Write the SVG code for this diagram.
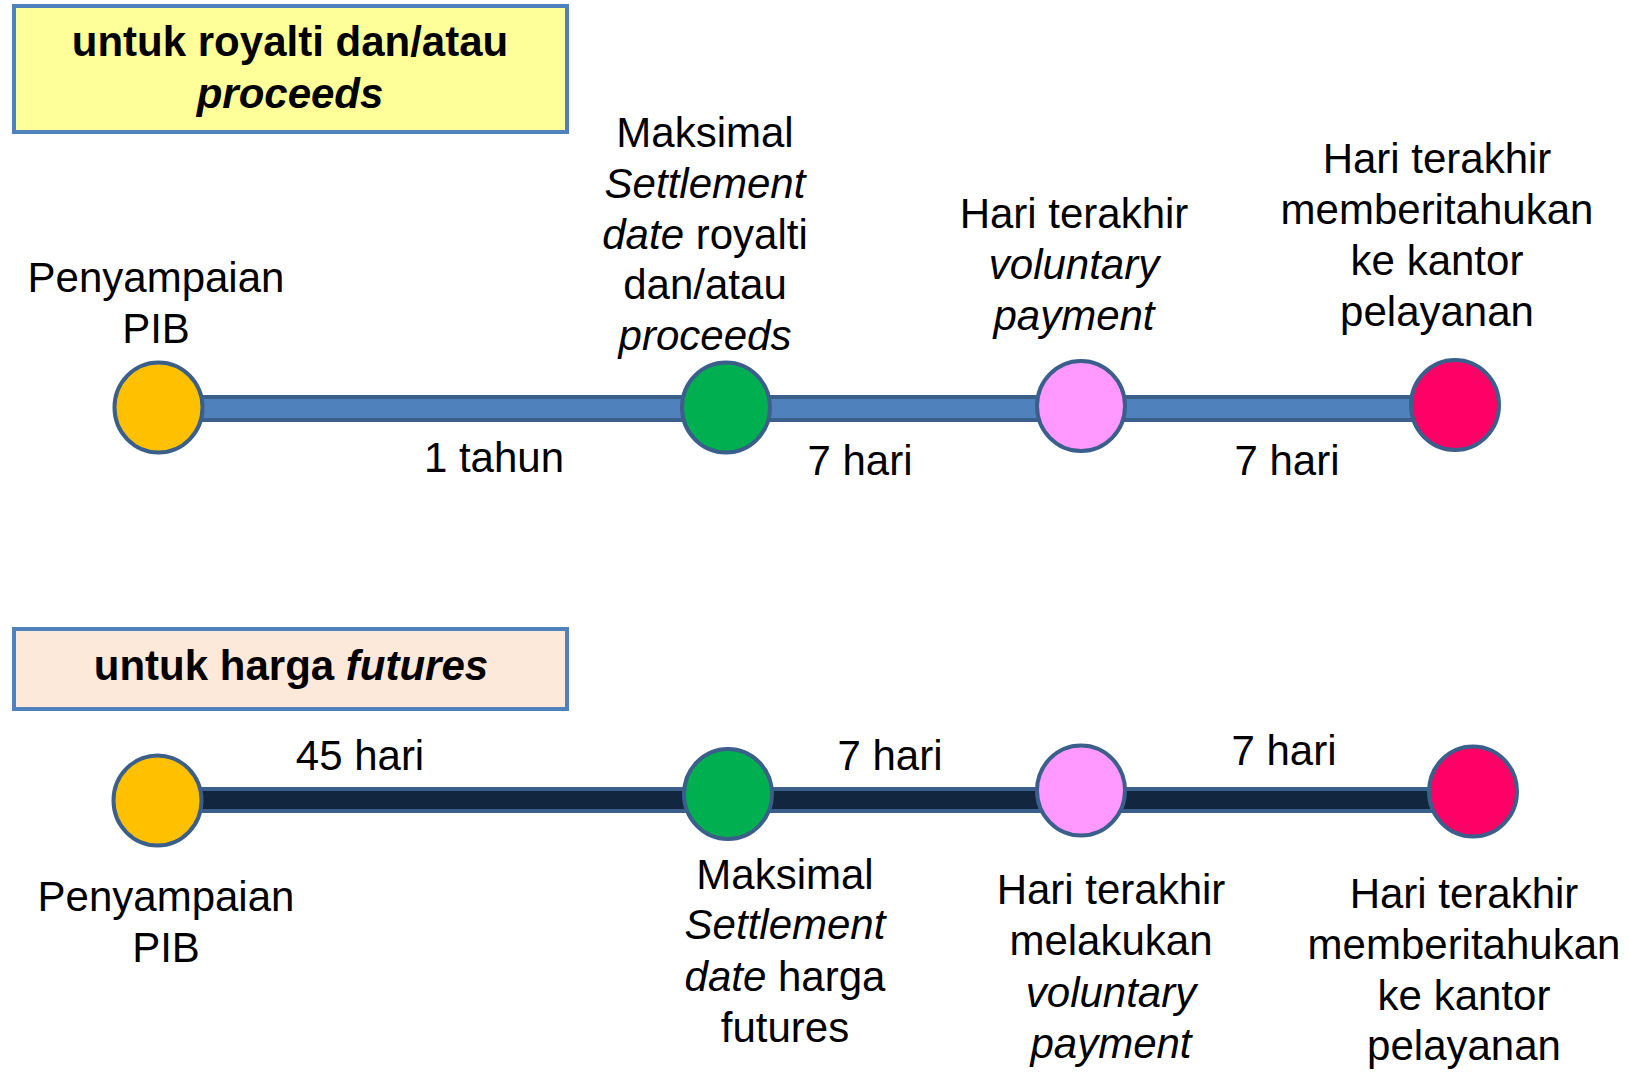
<svg xmlns="http://www.w3.org/2000/svg" width="1630" height="1073" viewBox="0 0 1630 1073">
<style>
text{font-family:"Liberation Sans",Arial,sans-serif;font-size:42px;fill:#000;text-anchor:middle}
.t{font-weight:bold}
.i{font-style:italic}
.box1{fill:#ffff99;stroke:#4f81bd;stroke-width:4}
.box2{fill:#fde9d9;stroke:#4f81bd;stroke-width:4}
.node{stroke:#3a5f8b;stroke-width:4}
.l1{fill:#4f81bd;stroke:#3a5f8b;stroke-width:4}
.l2{fill:#13263f;stroke:#3a5f8b;stroke-width:4}
</style>
<rect width="1630" height="1073" fill="#fff"/>
<g id="title1">
<rect class="box1" x="14" y="6" width="553" height="126"/>
<text class="t" x="290" y="56">untuk royalti dan/atau</text>
<text class="t i" x="290" y="108">proceeds</text>
</g>
<g id="title2">
<rect class="box2" x="14" y="629" width="553" height="80"/>
<text class="t" x="291" y="680">untuk harga <tspan class="i">futures</tspan></text>
</g>
<g id="connectors">
<rect class="l1" x="190" y="397" width="1230" height="23"/>
<rect class="l2" x="190" y="789" width="1250" height="22"/>
</g>
<g id="a1"><ellipse class="node" cx="158.5" cy="407.5" rx="44" ry="45" fill="#ffc000"/></g>
<g id="a2"><ellipse class="node" cx="726" cy="407.5" rx="44" ry="45" fill="#00b050"/></g>
<g id="a3"><ellipse class="node" cx="1081" cy="406" rx="44" ry="45" fill="#ff99ff"/></g>
<g id="a4"><ellipse class="node" cx="1455" cy="405" rx="44" ry="45" fill="#ff0066"/></g>
<g id="b1"><ellipse class="node" cx="157.5" cy="800.5" rx="44" ry="45" fill="#ffc000"/></g>
<g id="b2"><ellipse class="node" cx="728" cy="794" rx="44" ry="45" fill="#00b050"/></g>
<g id="b3"><ellipse class="node" cx="1081" cy="790.5" rx="44" ry="45" fill="#ff99ff"/></g>
<g id="b4"><ellipse class="node" cx="1473" cy="791.5" rx="44" ry="45" fill="#ff0066"/></g>
<g id="labels-top">
<text x="156" y="292">Penyampaian</text>
<text x="156" y="343">PIB</text>
<text x="705" y="147">Maksimal</text>
<text x="705" y="198" class="i">Settlement</text>
<text x="705" y="249"><tspan class="i">date</tspan> royalti</text>
<text x="705" y="299">dan/atau</text>
<text x="705" y="350" class="i">proceeds</text>
<text x="1074" y="228">Hari terakhir</text>
<text x="1074" y="279" class="i">voluntary</text>
<text x="1074" y="330" class="i">payment</text>
<text x="1437" y="173">Hari terakhir</text>
<text x="1437" y="224">memberitahukan</text>
<text x="1437" y="275">ke kantor</text>
<text x="1437" y="326">pelayanan</text>
<text x="494" y="472">1 tahun</text>
<text x="860" y="475">7 hari</text>
<text x="1287" y="475">7 hari</text>
</g>
<g id="labels-bottom">
<text x="360" y="770">45 hari</text>
<text x="890" y="770">7 hari</text>
<text x="1284" y="765">7 hari</text>
<text x="166" y="911">Penyampaian</text>
<text x="166" y="962">PIB</text>
<text x="785" y="889">Maksimal</text>
<text x="785" y="939" class="i">Settlement</text>
<text x="785" y="991"><tspan class="i">date</tspan> harga</text>
<text x="785" y="1042">futures</text>
<text x="1111" y="904">Hari terakhir</text>
<text x="1111" y="955">melakukan</text>
<text x="1111" y="1007" class="i">voluntary</text>
<text x="1111" y="1058" class="i">payment</text>
<text x="1464" y="908">Hari terakhir</text>
<text x="1464" y="959">memberitahukan</text>
<text x="1464" y="1010">ke kantor</text>
<text x="1464" y="1060">pelayanan</text>
</g>
</svg>
